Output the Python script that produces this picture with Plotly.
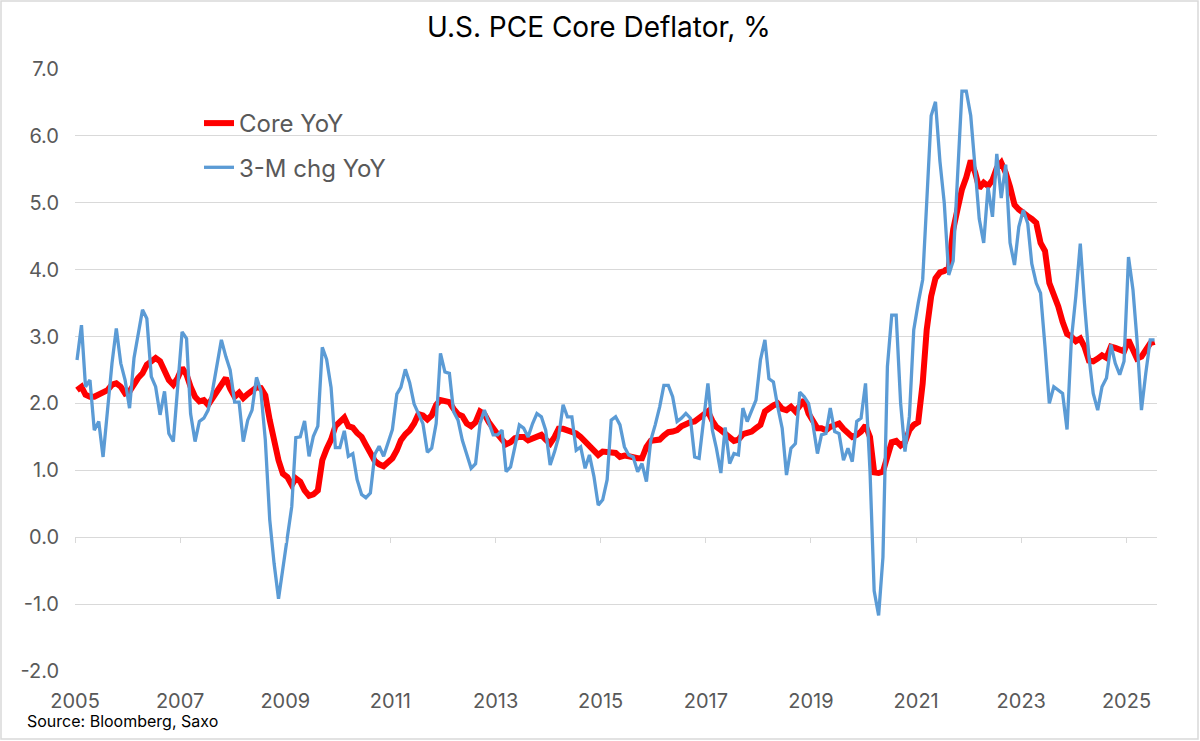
import plotly.graph_objects as go

# ---------------- data ----------------
start_year, start_month = 2005, 1
core_yoy = [
    2.2, 2.25, 2.13, 2.1, 2.1, 2.14, 2.18, 2.2, 2.28, 2.3, 2.25, 2.15,
    2.18, 2.3, 2.38, 2.45, 2.58, 2.63, 2.68, 2.63, 2.5, 2.35, 2.28, 2.38,
    2.53, 2.43, 2.25, 2.1, 2.03, 2.05, 1.98, 2.08, 2.18, 2.28, 2.38, 2.22,
    2.1, 2.16, 2.08, 2.14, 2.2, 2.24, 2.23, 2.12, 1.75, 1.42, 1.15, 0.95,
    0.9, 0.78, 0.88, 0.83, 0.7, 0.62, 0.64, 0.7, 1.15, 1.32, 1.46, 1.66,
    1.74, 1.79, 1.66, 1.64, 1.56, 1.5, 1.38, 1.25, 1.14, 1.09, 1.06, 1.12,
    1.18, 1.3, 1.45, 1.54, 1.6, 1.7, 1.84, 1.82, 1.76, 1.82, 1.98, 2.05,
    2.03, 2.02, 1.92, 1.84, 1.81, 1.7, 1.66, 1.72, 1.88, 1.84, 1.72, 1.62,
    1.54, 1.46, 1.39, 1.42, 1.48, 1.5, 1.5, 1.45, 1.48, 1.5, 1.53, 1.46,
    1.4, 1.5, 1.62, 1.62, 1.6, 1.58, 1.55, 1.5, 1.43, 1.36, 1.28, 1.23,
    1.28, 1.28, 1.28, 1.26, 1.2, 1.22, 1.21, 1.19, 1.18, 1.18, 1.35, 1.44,
    1.46, 1.46, 1.52, 1.57, 1.58, 1.6, 1.66, 1.7, 1.72, 1.73, 1.78, 1.84,
    1.88, 1.74, 1.65, 1.6, 1.55, 1.48, 1.44, 1.46, 1.54, 1.56, 1.58, 1.63,
    1.68, 1.88, 1.93, 1.97, 2.0, 1.92, 1.9, 1.95, 1.88, 1.95, 2.05, 1.85,
    1.73, 1.63, 1.63, 1.6, 1.65, 1.68, 1.7, 1.62, 1.55, 1.5, 1.53, 1.58,
    1.67, 1.5, 0.97, 0.96, 0.98, 1.25, 1.42, 1.44, 1.37, 1.42, 1.6, 1.68,
    1.72, 2.3, 3.1, 3.6, 3.87, 3.96, 3.98, 4.03, 4.6, 4.9, 5.2, 5.38,
    5.63, 5.45, 5.22, 5.3, 5.25, 5.34, 5.52, 5.6, 5.45, 5.24, 4.97, 4.9,
    4.84, 4.8, 4.76, 4.7, 4.4, 4.28, 3.8, 3.65, 3.45, 3.22, 3.04, 3.0,
    2.93, 2.97, 2.85, 2.64, 2.63, 2.67, 2.72, 2.68, 2.85, 2.83, 2.8, 2.78,
    2.95, 2.82, 2.67, 2.7, 2.8, 2.9, 2.92,
]
chg_3m = [
    2.65, 3.17, 2.25, 2.35, 1.6, 1.73, 1.2, 1.9, 2.6, 3.12, 2.6, 2.35,
    1.93, 2.68, 3.0, 3.4, 3.27, 2.4, 2.25, 1.83, 2.18, 1.55, 1.43, 2.3,
    3.07, 2.97, 1.85, 1.43, 1.73, 1.78, 1.9, 2.2, 2.58, 2.95, 2.7, 2.5,
    2.02, 2.02, 1.43, 1.75, 1.9, 2.39, 2.19, 1.46, 0.26, -0.39, -0.92, -0.49,
    0.01, 0.46, 1.49, 1.5, 1.74, 1.21, 1.51, 1.66, 2.84, 2.66, 2.24, 1.34,
    1.34, 1.59, 1.21, 1.25, 0.86, 0.64, 0.59, 0.66, 1.24, 1.36, 1.21, 1.41,
    1.61, 2.14, 2.24, 2.51, 2.31, 1.99, 1.86, 1.7, 1.27, 1.33, 1.7, 2.75,
    2.47, 2.45, 1.88, 1.75, 1.45, 1.25, 1.03, 1.1, 1.7, 1.9, 1.7, 1.53,
    1.53, 1.6, 0.98, 1.05, 1.35, 1.68, 1.63, 1.5, 1.7, 1.85, 1.8, 1.6,
    1.08, 1.28, 1.5, 1.98, 1.8, 1.8, 1.3, 1.35, 1.03, 1.23, 0.91, 0.48,
    0.56, 0.86, 1.75, 1.8, 1.68, 1.35, 1.23, 1.2, 0.98, 1.1, 0.83, 1.45,
    1.68, 1.95, 2.27, 2.27, 2.1, 1.73, 1.78, 1.85, 1.78, 1.2, 1.18, 1.75,
    2.3, 1.6, 1.33, 0.96, 1.64, 1.1, 1.25, 1.23, 1.93, 1.73, 1.88, 2.05,
    2.65, 2.95, 2.37, 2.32, 1.95, 1.63, 0.93, 1.33, 1.4, 2.17, 2.1, 2.0,
    1.68, 1.25, 1.53, 1.55, 1.93, 1.58, 1.55, 1.15, 1.33, 1.13, 1.73, 1.78,
    2.3, 1.0, -0.8, -1.17, -0.3, 2.55, 3.32, 3.32, 2.0, 1.28, 1.81, 3.1,
    3.5, 3.85, 5.0, 6.3, 6.51, 5.62, 5.0, 3.92, 4.13, 5.3, 6.67, 6.67,
    6.3, 5.5, 4.76, 4.4, 5.23, 4.79, 5.73, 5.07, 5.57, 4.4, 4.07, 4.64,
    4.89, 4.69, 4.09, 3.8, 3.65, 2.85, 2.0, 2.25, 2.2, 2.15, 1.61, 2.95,
    3.6, 4.39, 3.5, 2.7, 2.15, 1.9, 2.25, 2.38, 2.88, 2.6, 2.43, 2.63,
    4.19, 3.7, 2.95, 1.9, 2.45, 2.95, 2.95,
]
series_names = ["Core YoY", "3-M chg YoY"]
x_tick_years = [2005, 2007, 2009, 2011, 2013, 2015, 2017, 2019, 2021, 2023, 2025]
y_tick_values = [-2, -1, 0, 1, 2, 3, 4, 5, 6, 7]
y_tick_labels = ["-2.0", "-1.0", "0.0", "1.0", "2.0", "3.0", "4.0", "5.0", "6.0", "7.0"]
title_text = "U.S. PCE Core Deflator, %"
source_text = "Source: Bloomberg, Saxo"

# monthly dates, centred mid-month
dates = []
for k in range(len(core_yoy)):
    y = start_year + (start_month - 1 + k) // 12
    m = (start_month - 1 + k) % 12 + 1
    dates.append(f"{y}-{m:02d}-15")

# ---------------- figure ----------------
W, H = 1200, 741
L, R, T, B = 75, 43, 69, 70
pw, ph = W - L - R, H - T - B
FONT = "Inter"
GRID = "#d9d9d9"
TXT = "#595959"

def px_x(p):
    return (p - L) / pw

def px_y(p):
    return (H - B - p) / ph

fig = go.Figure()
fig.add_trace(go.Scatter(
    x=dates, y=core_yoy, name=series_names[0], mode="lines",
    line=dict(color="#FF0000", width=6), legendgroup="a",
))
fig.add_trace(go.Scatter(
    x=dates, y=chg_3m, name=series_names[1], mode="lines",
    line=dict(color="#5B9BD5", width=3.3), legendgroup="b",
))
# empty trace to draw the tick marks on the zero line
fig.add_trace(go.Scatter(x=[], y=[], xaxis="x2", yaxis="y",
                         showlegend=False, hoverinfo="skip"))

xr = ["2005-01-01", "2025-08-01"]
tickvals = [f"{yy}-01-01" for yy in x_tick_years]
ticktext = [str(yy) for yy in x_tick_years]

fig.update_layout(
    width=W, height=H, autosize=False,
    margin=dict(l=L, r=R, t=T, b=B, pad=0),
    paper_bgcolor="white", plot_bgcolor="white",
    font=dict(family=FONT, color=TXT, size=20),
    showlegend=True,
    legend=dict(
        x=px_x(199), y=px_y(101), xanchor="left", yanchor="top",
        font=dict(family=FONT, size=24, color=TXT),
        bgcolor="rgba(0,0,0,0)", borderwidth=0,
        tracegroupgap=10, itemwidth=30,
    ),
    xaxis=dict(
        type="date", range=xr,
        tickmode="array", tickvals=tickvals, ticktext=ticktext,
        showgrid=False, zeroline=False, showline=False,
        ticks="outside", ticklen=12, tickcolor="rgba(0,0,0,0)",
        tickfont=dict(family=FONT, size=20, color=TXT),
    ),
    xaxis2=dict(
        type="date", range=xr, overlaying="x", anchor="free",
        position=(0 - (-2)) / 9,
        tickmode="array", tickvals=tickvals, showticklabels=False,
        showgrid=False, zeroline=False, showline=False,
        ticks="outside", ticklen=5, tickwidth=1.3, tickcolor=GRID,
    ),
    yaxis=dict(
        range=[-2, 7], tickmode="array", tickvals=y_tick_values,
        ticktext=y_tick_labels,
        showgrid=True, gridcolor=GRID, gridwidth=1.3,
        zeroline=False, showline=False,
        ticks="outside", ticklen=11, tickcolor="rgba(0,0,0,0)",
        tickfont=dict(family=FONT, size=20, color=TXT),
    ),
    annotations=[
        dict(text=title_text, xref="paper", yref="paper",
             x=px_x(599), y=px_y(27), xanchor="center", yanchor="middle",
             showarrow=False, font=dict(family=FONT, size=28, color="#000000")),
        dict(text=source_text, xref="paper", yref="paper",
             x=px_x(25), y=px_y(721), xanchor="left", yanchor="middle",
             showarrow=False, font=dict(family=FONT, size=16, color="#000000")),
    ],
    shapes=[
        dict(type="rect", xref="paper", yref="paper",
             x0=px_x(1), x1=px_x(1198), y0=px_y(739), y1=px_y(1),
             line=dict(color=GRID, width=1.5), fillcolor="rgba(0,0,0,0)",
             layer="below"),
    ],
)

fig.write_html("out.html", config={"displayModeBar": False},
               post_script="document.body.style.margin='0px';")
